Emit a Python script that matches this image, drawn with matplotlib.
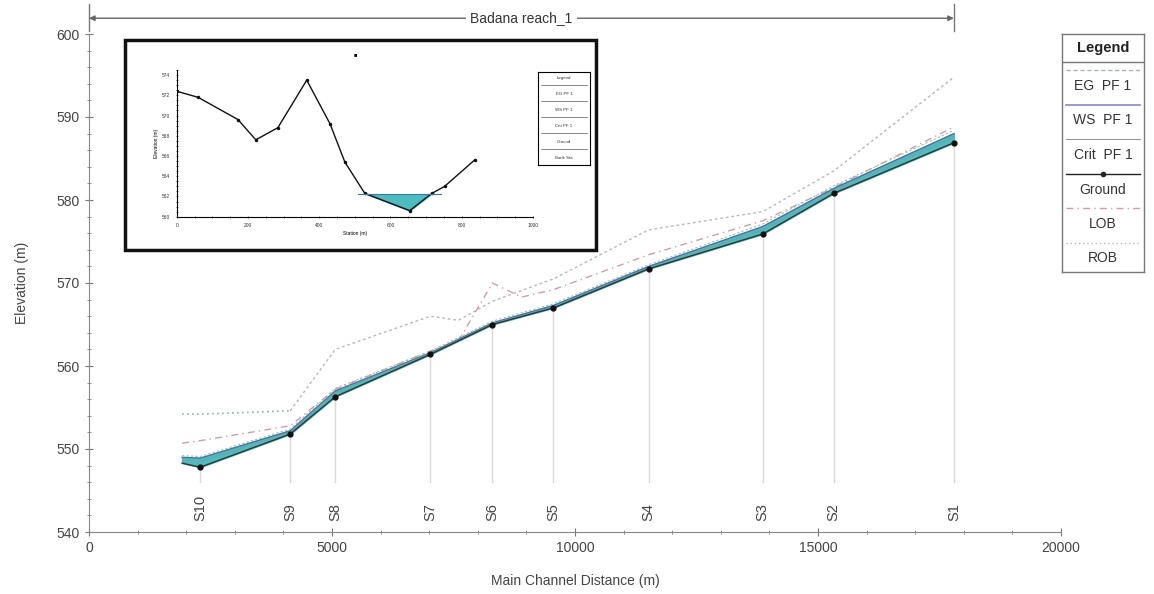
import matplotlib
matplotlib.use("Agg")
import matplotlib.pyplot as plt
from matplotlib.patches import Rectangle
import numpy as np

plt.rcParams["font.family"] = ["Liberation Sans", "DejaVu Sans"]

# main profile data
stations = [1915, 2286, 4140, 5067, 7024, 8301, 9557, 11514, 13862, 15324, 17796]
section_labels = ["", "S10", "S9", "S8", "S7", "S6", "S5", "S4", "S3", "S2", "S1"]
ground = [548.3, 547.8, 551.8, 556.3, 561.4, 565.0, 567.0, 571.7, 575.9, 580.8, 586.9]
ws_pf1 = [549.0, 548.9, 552.2, 557.0, 561.6, 565.2, 567.3, 572.0, 576.8, 581.4, 588.0]
eg_pf1 = [549.2, 549.1, 552.4, 557.3, 561.8, 565.4, 567.5, 572.2, 577.1, 581.7, 588.4]
crit_pf1 = [548.7, 548.5, 552.0, 556.8, 561.5, 565.1, 567.1, 571.8, 576.4, 581.1, 587.6]
lob_x = [1915, 2286, 4140, 5067, 7024, 7600, 8301, 8900, 9557, 11514, 13862, 15324, 17796]
lob = [550.7, 551.0, 552.8, 557.2, 561.8, 563.0, 570.0, 568.3, 569.2, 573.4, 577.5, 581.5, 588.8]
rob_x = [1915, 2286, 4140, 5067, 7024, 7600, 8301, 9557, 11514, 13862, 15324, 17796]
rob = [554.2, 554.2, 554.6, 562.0, 566.0, 565.5, 567.8, 570.5, 576.4, 578.6, 583.5, 594.8]

# inset cross-section data
xs_station = [0, 60, 172, 222, 284, 365, 430, 472, 528, 654, 716, 752, 836]
xs_ground = [572.4, 571.8, 569.6, 567.6, 568.8, 573.5, 569.2, 565.4, 562.3, 560.6, 562.3, 563.0, 565.6]
xs_ws = 562.2

fig = plt.figure(figsize=(11.54, 5.94), dpi=100)
ax = fig.add_axes([89 / 1154, 1 - 532 / 594, 972 / 1154, 498 / 594])

teal = "#4cbcbf"
ax.fill_between(stations, ground, ws_pf1, color=teal, zorder=2)
ax.plot(stations, ws_pf1, color="#3a78a8", lw=1.0, zorder=3)
ax.plot(stations, crit_pf1, color="#8a9a9a", lw=0.6, zorder=3)
ax.plot(stations, eg_pf1, color="#a8b8a8", lw=0.8, ls=(0, (2, 2)), zorder=3)
ax.plot(lob_x, lob, color="#c8a0a8", lw=1.0, ls=(0, (5, 3, 1, 3)), zorder=2)
ax.plot(rob_x[:3], rob[:3], color="#88b8a0", lw=1.2, ls=(0, (1, 2)), zorder=2)
ax.plot(rob_x[2:], rob[2:], color="#b8b8b8", lw=1.0, ls=(0, (2, 2)), zorder=2)
ax.plot(stations, ground, color="#333333", lw=1.0, zorder=4)
ax.plot(stations[1:], ground[1:], "o", color="#111111", ms=3.5, zorder=5)

for s, g, lab in zip(stations, ground, section_labels):
    if not lab:
        continue
    ax.plot([s, s], [546.0, g], color="#d8d8d8", lw=1.0, zorder=1)
    ax.text(s, 541.3, lab, rotation=90, ha="center", va="bottom",
            fontsize=10.5, color="#444444")

ax.set_xlim(0, 20000)
ax.set_ylim(540, 600)
ax.set_xticks(np.arange(0, 20001, 5000))
ax.set_xticks(np.arange(0, 20001, 1000), minor=True)
ax.set_yticks(np.arange(540, 601, 10))
ax.set_yticks(np.arange(540, 601, 2), minor=True)
ax.tick_params(which="both", direction="inout", colors="#777777",
               labelcolor="#444444", labelsize=10)
ax.tick_params(which="major", length=6)
ax.tick_params(which="minor", length=3)
for side in ["top", "right"]:
    ax.spines[side].set_visible(False)
for side in ["left", "bottom"]:
    ax.spines[side].set_color("#888888")
ax.set_xlabel("Main Channel Distance (m)", fontsize=10, color="#444444", labelpad=14)
ax.set_ylabel("Elevation (m)", fontsize=10, color="#444444", labelpad=20)

# reach annotation above the plot
reach_end = stations[-1]
ax.annotate("", xy=(0, 601.9), xytext=(reach_end, 601.9),
            arrowprops=dict(arrowstyle="<|-|>", color="#666666", lw=1.0,
                            mutation_scale=8, shrinkA=0, shrinkB=0),
            annotation_clip=False)
for xe in [0, reach_end]:
    ax.plot([xe, xe], [600.4, 603.6], color="#777777", lw=1.0, clip_on=False)
ax.text(reach_end / 2, 601.9, "Badana reach_1", ha="center", va="center",
        fontsize=10, color="#333333",
        bbox=dict(facecolor="white", edgecolor="none", pad=3), clip_on=False)

# inset frame
fig.patches.append(Rectangle((125 / 1154, 1 - 250 / 594), 471 / 1154, 210 / 594,
                             transform=fig.transFigure, fill=True, facecolor="white",
                             edgecolor="#111111", lw=2.5, zorder=5))
iax = fig.add_axes([176.7 / 1154, 1 - 216.7 / 594, 356.3 / 1154, 146.7 / 594], zorder=6)
iax.plot(xs_station, xs_ground, color="#111111", lw=1.0, marker="o", ms=1.5)
wx = np.linspace(xs_station[7], xs_station[11], 200)
wg = np.interp(wx, xs_station, xs_ground)
iax.fill_between(wx, wg, xs_ws, where=wg < xs_ws, color=teal, interpolate=True)
iax.plot([xs_station[8] - 20, xs_station[10] + 25], [xs_ws, xs_ws], color="#3a78a8", lw=0.8)
iax.set_xlim(0, 1000)
iax.set_ylim(560, 574)
iax.set_xticks(np.arange(0, 1001, 200))
iax.set_xticks(np.arange(0, 1001, 50), minor=True)
iax.set_yticks(np.arange(560, 575, 2))
iax.set_yticks(np.arange(560, 575, 0.5), minor=True)
iax.tick_params(which="both", direction="inout", labelsize=3.5, colors="#333333",
                length=2, width=0.6)
iax.tick_params(which="minor", length=1.2)
for side in ["top", "right"]:
    iax.spines[side].set_visible(False)
iax.set_xlabel("Station (m)", fontsize=3.5, labelpad=2)
iax.set_ylabel("Elevation (m)", fontsize=3.5, labelpad=2)
iax.set_title("■", fontsize=4, pad=10)
iax.patch.set_alpha(0)

# inset legend
ilg = fig.add_axes([538 / 1154, 1 - 165 / 594, 52 / 1154, 93 / 594], zorder=7)
ilg.set_xlim(0, 1)
ilg.set_ylim(165, 72)
ilg.set_xticks([])
ilg.set_yticks([])
for sp in ilg.spines.values():
    sp.set_linewidth(0.8)
inset_names = ["Legend", "EG PF 1", "WS PF 1", "Crit PF 1", "Ground", "Bank Sta"]
for i, name in enumerate(inset_names):
    yy = 78 + i * 16
    ilg.text(0.5, yy, name, ha="center", va="center", fontsize=3.2, color="#333333")
    if i < len(inset_names) - 1:
        ilg.plot([0.05, 0.95], [yy + 7, yy + 7], color="#555555", lw=0.5)

# main legend box
lg = fig.add_axes([1062 / 1154, 1 - 272 / 594, 82 / 1154, 238 / 594])
lg.set_xlim(0, 1)
lg.set_ylim(272, 34)
lg.set_xticks([])
lg.set_yticks([])
for sp in lg.spines.values():
    sp.set_color("#777777")
    sp.set_linewidth(1.0)
lg.plot([0, 1], [62, 62], color="#777777", lw=1.0)
lg.text(0.5, 48, "Legend", ha="center", va="center", fontsize=10.5,
        fontweight="bold", color="#222222")
legend_names = ["EG  PF 1", "WS  PF 1", "Crit  PF 1", "Ground", "LOB", "ROB"]
legend_styles = [
    dict(color="#a8b8a8", lw=1.0, ls=(0, (3, 2))),
    dict(color="#8888c8", lw=1.2, ls="-"),
    dict(color="#999999", lw=0.8, ls="-"),
    dict(color="#222222", lw=1.0, ls="-", marker="o", ms=3, markevery=[1]),
    dict(color="#c8a0a8", lw=1.0, ls=(0, (5, 3, 1, 3))),
    dict(color="#b8b8b8", lw=1.0, ls=(0, (1, 2))),
]
for i, (name, st) in enumerate(zip(legend_names, legend_styles)):
    y_line = 70 + i * 34.5
    lg.plot([0.05, 0.5, 0.95], [y_line, y_line, y_line], **st)
    lg.text(0.5, y_line + 16, name, ha="center", va="center", fontsize=10,
            color="#333333")

fig.savefig("out.png", dpi=100)
